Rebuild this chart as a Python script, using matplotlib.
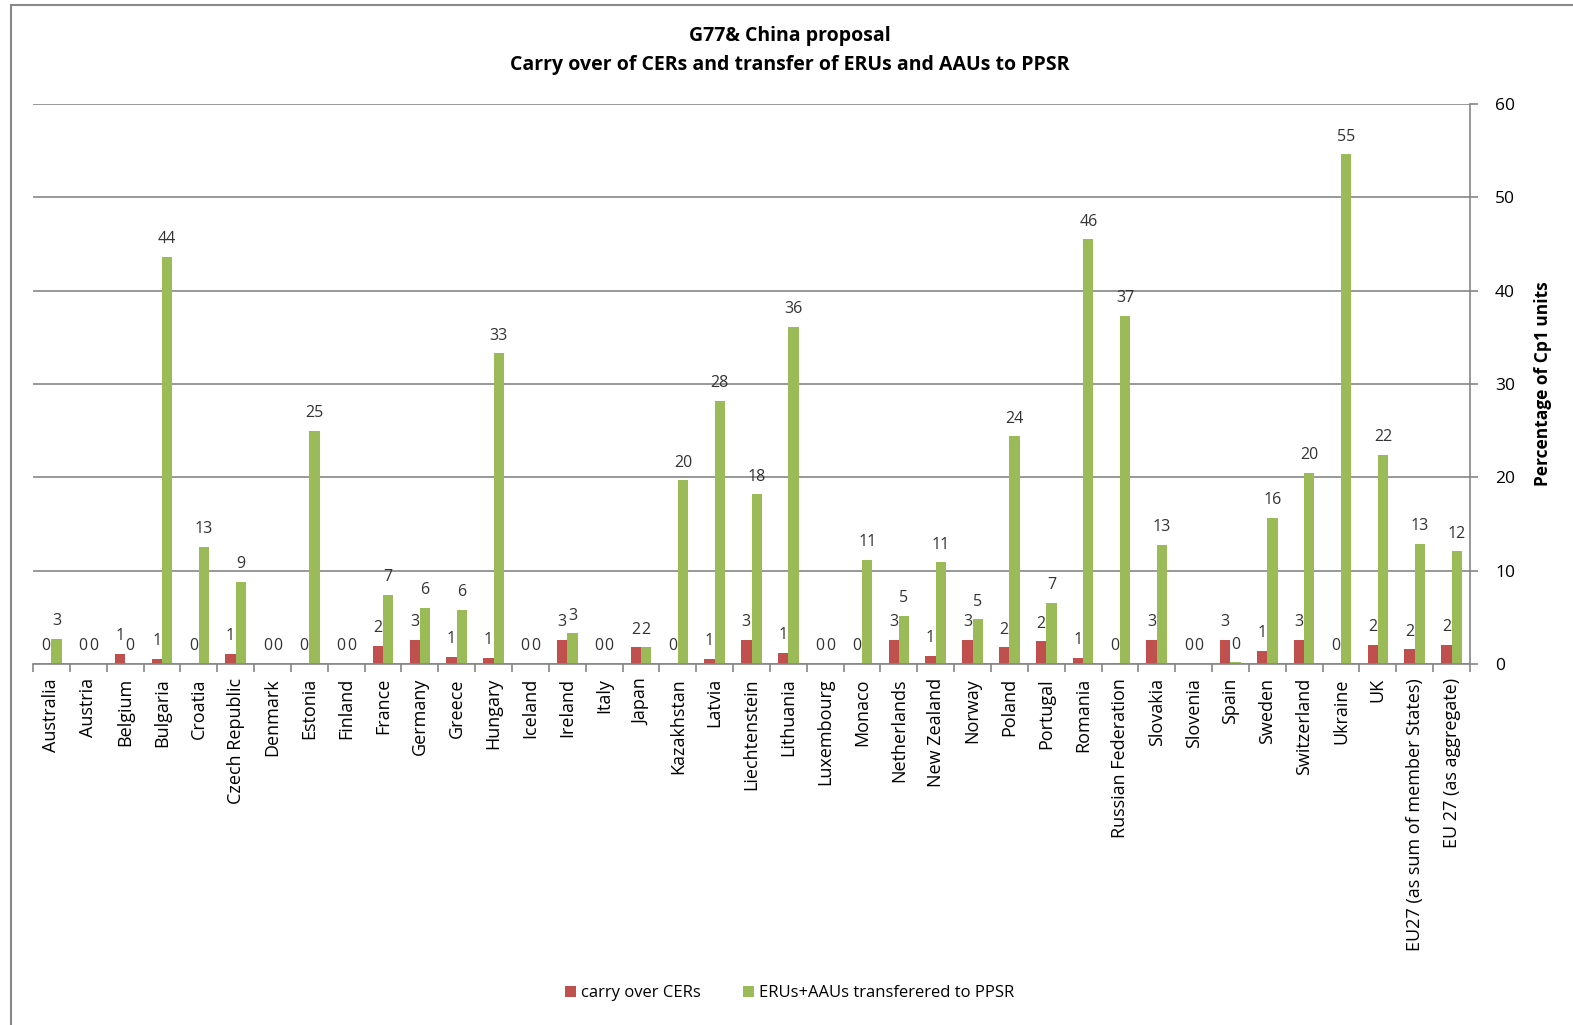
import numpy as np
import matplotlib.pyplot as plt
from matplotlib.patches import Rectangle

# data
countries = ['Australia', 'Austria', 'Belgium', 'Bulgaria', 'Croatia', 'Czech Republic',
             'Denmark', 'Estonia', 'Finland', 'France', 'Germany', 'Greece', 'Hungary',
             'Iceland', 'Ireland', 'Italy', 'Japan', 'Kazakhstan', 'Latvia', 'Liechtenstein',
             'Lithuania', 'Luxembourg', 'Monaco', 'Netherlands', 'New Zealand', 'Norway',
             'Poland', 'Portugal', 'Romania', 'Russian Federation', 'Slovakia', 'Slovenia',
             'Spain', 'Sweden', 'Switzerland', 'Ukraine', 'UK',
             'EU27 (as sum of member States)', 'EU 27 (as aggregate)']

carry_over_cers = [0, 0, 1.1, 0.6, 0, 1.1,
                   0, 0, 0, 2.0, 2.6, 0.8, 0.7,
                   0, 2.6, 0, 1.8, 0, 0.6, 2.6,
                   1.2, 0, 0, 2.6, 0.9, 2.6,
                   1.8, 2.45, 0.7, 0, 2.6, 0,
                   2.6, 1.4, 2.6, 0, 2.1,
                   1.6, 2.1]

erus_aaus = [2.7, 0, 0, 43.6, 12.6, 8.8,
             0, 25.0, 0, 7.4, 6.0, 5.8, 33.3,
             0, 3.3, 0, 1.8, 19.7, 28.2, 18.2,
             36.1, 0, 11.2, 5.2, 10.9, 4.8,
             24.4, 6.6, 45.5, 37.3, 12.8, 0,
             0.2, 15.7, 20.5, 54.6, 22.4,
             12.9, 12.1]

plt.rcParams['font.family'] = ['Open Sans', 'DejaVu Sans']

fig = plt.figure(figsize=(15.73, 10.25), dpi=100)
ax = fig.add_axes([0.021, 0.352, 0.9135, 0.5465])

x = np.arange(len(countries))
w = 0.28
red = ax.bar(x - w / 2, carry_over_cers, w, color='#C0504D', label='carry over CERs')
green = ax.bar(x + w / 2, erus_aaus, w, color='#9BBB59', label='ERUs+AAUs transferered to PPSR')
ax.bar_label(red, fmt='%.0f', padding=7, fontsize=11.5, color='#333333')
ax.bar_label(green, fmt='%.0f', padding=7, fontsize=11.5, color='#333333')

ax.set_xlim(-0.5, len(countries) - 0.5)
ax.set_ylim(0, 60)
ax.set_yticks(np.arange(0, 61, 10))
ax.yaxis.tick_right()
ax.yaxis.set_label_position('right')
ax.set_ylabel('Percentage of Cp1 units', fontsize=12.5, fontweight='bold', labelpad=14)
ax.grid(axis='y', color='#868686', linewidth=1.2)
ax.set_axisbelow(True)

ax.set_xticks(x)
ax.set_xticklabels(countries, rotation=90, fontsize=13)
ax.set_xticks(np.arange(-0.5, len(countries)), minor=True)
ax.tick_params(axis='x', which='major', length=0, pad=10)
ax.tick_params(axis='x', which='minor', length=6, color='#868686', width=1.2)
ax.tick_params(axis='y', length=6, color='#868686', width=1.2, labelsize=12.5, pad=12)

for s in ['top', 'left']:
    ax.spines[s].set_visible(False)
ax.spines['bottom'].set_color('#868686')
ax.spines['right'].set_color('#868686')
ax.spines['bottom'].set_linewidth(1.2)
ax.spines['right'].set_linewidth(1.2)

fig.text(0.502, 0.965, 'G77& China proposal', ha='center', va='center',
         fontsize=14, fontweight='bold')
fig.text(0.502, 0.937, 'Carry over of CERs and transfer of ERUs and AAUs to PPSR',
         ha='center', va='center', fontsize=14, fontweight='bold')

fig.legend(handles=[red, green], loc='center', bbox_to_anchor=(0.502, 0.031), ncol=2,
           frameon=False, fontsize=12, handlelength=0.7, handleheight=0.7,
           handletextpad=0.3, columnspacing=2.5)

fig.patches.append(Rectangle((0.007, -0.01), 1.1, 1.005, transform=fig.transFigure,
                             fill=False, edgecolor='#888888', linewidth=1.5))

fig.savefig('out.png', dpi=100)
